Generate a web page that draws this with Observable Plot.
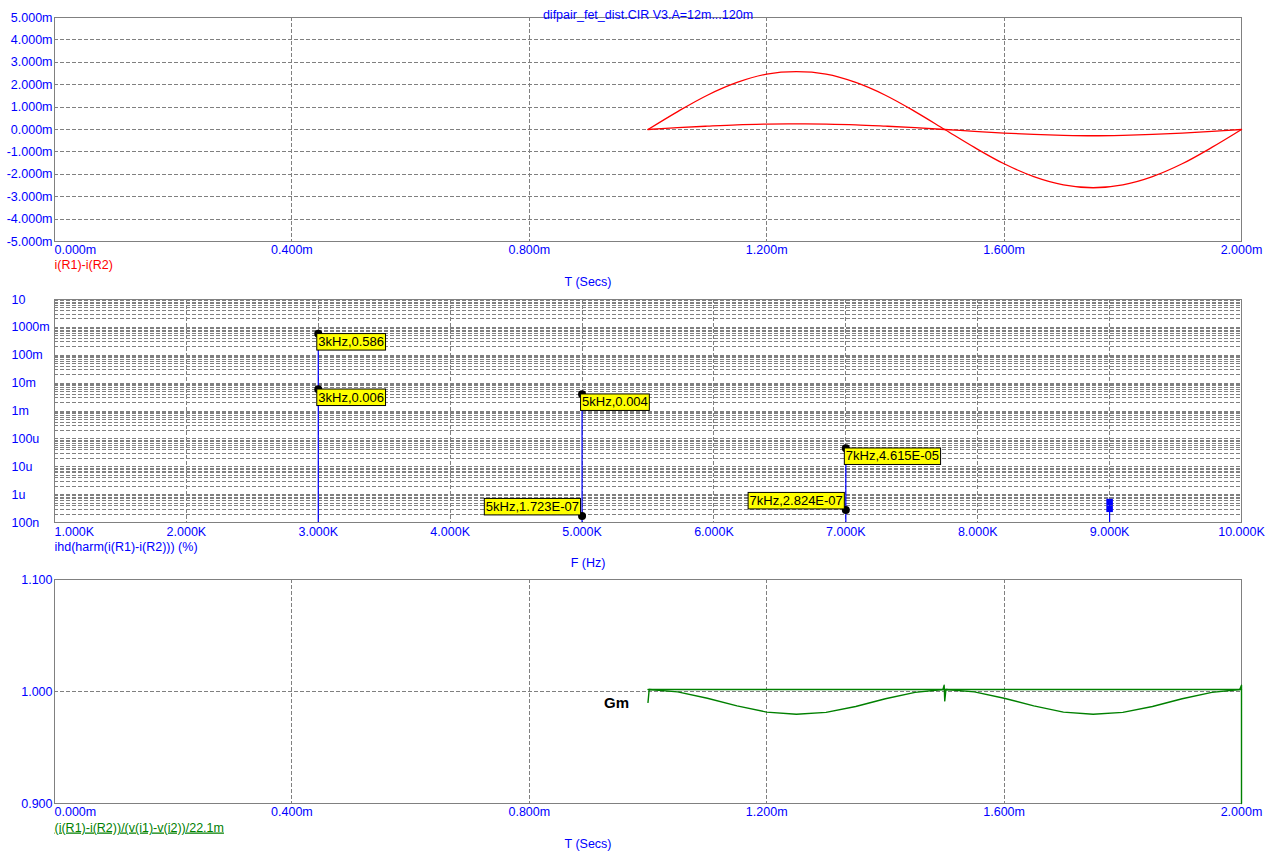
<!DOCTYPE html>
<html><head><meta charset="utf-8">
<script src="https://cdn.jsdelivr.net/npm/d3@7"></script>
<script src="https://cdn.jsdelivr.net/npm/@observablehq/plot@0.6"></script>
<style>
body{margin:0;background:#fff;}
#wrap{position:relative;width:1276px;height:860px;overflow:hidden;background:#fff;}
#wrap > svg{position:absolute;left:0;}
</style></head><body><div id="wrap"></div>
<script>
// ---------- data ----------
const title = "difpair_fet_dist.CIR V3.A=12m...120m";
const timeTicks = [0, 0.4, 0.8, 1.2, 1.6, 2.0];            // ms
const currentTicks = [-5, -4, -3, -2, -1, 0, 1, 2, 3, 4, 5]; // mA
const tCurve = [1.00, 1.05, 1.10, 1.15, 1.20, 1.25, 1.30, 1.35, 1.40, 1.45, 1.50,
                1.55, 1.60, 1.65, 1.70, 1.75, 1.80, 1.85, 1.90, 1.95, 2.00];
const iLarge = [0, 0.80, 1.53, 2.10, 2.47, 2.58, 2.47, 2.10, 1.53, 0.80, 0,
                -0.80, -1.53, -2.10, -2.47, -2.60, -2.47, -2.10, -1.53, -0.80, 0];
const iSmall = [0, 0.08, 0.15, 0.21, 0.24, 0.25, 0.24, 0.21, 0.15, 0.08, 0,
                -0.08, -0.16, -0.22, -0.26, -0.28, -0.26, -0.22, -0.16, -0.08, 0];

const freqTicks = [1000, 2000, 3000, 4000, 5000, 6000, 7000, 8000, 9000, 10000];
const freqTickLabels = ["1.000K","2.000K","3.000K","4.000K","5.000K","6.000K","7.000K","8.000K","9.000K","10.000K"];
const ihdTicks = [1e-7, 1e-6, 1e-5, 1e-4, 1e-3, 1e-2, 0.1, 1, 10];
const ihdTickLabels = ["100n","1u","10u","100u","1m","10m","100m","1000m","10"];
const harmFreq = [3000, 5000, 7000, 9000];
const ihdRunA12 = [0.006, 1.723e-7, 2.824e-7, 3.1e-7];
const ihdRunA120 = [0.586, 0.004, 4.615e-5, 5.4e-7];
const tagFreq = [3000, 3000, 5000, 7000];
const tagValue = [0.586, 0.006, 0.004, 4.615e-5];
const tagText = ["3kHz,0.586", "3kHz,0.006", "5kHz,0.004", "7kHz,4.615E-05"];
const tagLeftFreq = [5000, 7000];
const tagLeftValue = [1.723e-7, 2.824e-7];
const tagLeftText = ["5kHz,1.723E-07", "7kHz,2.824E-07"];

const gmTicks = [0.9, 1.0, 1.1];
const gmT = [1.000, 1.002, 1.05, 1.10, 1.15, 1.20, 1.25, 1.30, 1.35, 1.40, 1.45, 1.497, 1.499,
             1.500, 1.502, 1.55, 1.60, 1.65, 1.70, 1.75, 1.80, 1.85, 1.90, 1.95, 1.997, 2.000, 2.000];
const gmLarge = [0.9903, 1.0018, 0.9997, 0.9940, 0.9872, 0.9816, 0.9797, 0.9814, 0.9866, 0.9935, 0.9992, 1.0018, 1.0056,
                 0.9916, 1.0018, 0.9997, 0.9940, 0.9872, 0.9816, 0.9797, 0.9814, 0.9866, 0.9935, 0.9992, 1.0018, 1.0056, 0.9000];
const gmSmallT = [1.000, 1.25, 1.50, 1.75, 2.000];
const gmSmall = [1.0018, 1.0018, 1.0018, 1.0018, 1.0018];
const gmLabel = {t: 0.947, v: 0.98955, text: "Gm"};
const gmName = "(i(R1)-i(R2))/(v(i1)-v(i2))/22.1m";

// ---------- style ----------
const FONT = "Arial, 'Liberation Sans', sans-serif";
const BLUE = "#0000ff", RED = "#ff0000", GREEN = "#008000", GRAY = "#808080";
const gridOpt = {stroke: GRAY, strokeOpacity: 1, strokeDasharray: "4,2", shapeRendering: "crispEdges"};
const frameOpt = {stroke: GRAY, shapeRendering: "crispEdges"};
const baseStyle = {fontFamily: FONT, fontSize: "12.5px", color: BLUE, background: "transparent", overflow: "visible"};
const fmtT = d => d.toFixed(3) + "m";
const wrap = document.getElementById("wrap");

// ---------- panel 1 ----------
const p1 = Plot.plot({
  width: 1276, height: 290,
  marginLeft: 54, marginRight: 35, marginTop: 17, marginBottom: 49,
  style: baseStyle,
  x: {domain: [0, 2], axis: null},
  y: {domain: [-5, 5], axis: null},
  marks: [
    Plot.gridX(timeTicks.slice(1, -1), gridOpt),
    Plot.gridY(currentTicks.slice(1, -1), gridOpt),
    Plot.frame(frameOpt),
    Plot.axisY(currentTicks, {tickSize: 0, tickPadding: 2, tickFormat: fmtT, fill: BLUE, label: null}),
    Plot.axisX(timeTicks.slice(0, 1), {tickSize: 0, tickPadding: 4, textAnchor: "start", tickFormat: fmtT, fill: BLUE, label: null}),
    Plot.axisX(timeTicks.slice(1), {tickSize: 0, tickPadding: 4, tickFormat: fmtT, fill: BLUE, label: null}),
    Plot.line(tCurve, {x: d => d, y: (d, i) => iLarge[i], stroke: RED, strokeWidth: 1.3, curve: "catmull-rom"}),
    Plot.line(tCurve, {x: d => d, y: (d, i) => iSmall[i], stroke: RED, strokeWidth: 1.3, curve: "catmull-rom"}),
    Plot.text(["i(R1)-i(R2)"], {text: d => d, frameAnchor: "bottom-left", textAnchor: "start", dy: 27, fill: RED}),
    Plot.text(["T (Secs)"], {text: d => d, frameAnchor: "bottom", dx: -60, dy: 44, fill: BLUE}),
    Plot.text([title], {text: d => d, frameAnchor: "top", dy: -7, fill: BLUE})
  ]
});
p1.style.top = "0px";
wrap.appendChild(p1);

// ---------- panel 2 ----------
const minorLog = [];
for (let e = -7; e <= 0; e++) for (let k = 1; k <= 9; k++) minorLog.push(+(k * Math.pow(10, e)).toPrecision(3));
const harmRows = harmFreq.map((f, i) => ({f, a: ihdRunA12[i], b: ihdRunA120[i]}));
const p2 = Plot.plot({
  width: 1276, height: 285,
  marginLeft: 54, marginRight: 35, marginTop: 9, marginBottom: 53,
  style: baseStyle,
  x: {domain: [1000, 10000], axis: null},
  y: {type: "log", domain: [1e-7, 10], axis: null},
  marks: [
    Plot.gridX(freqTicks.slice(1, -1), gridOpt),
    Plot.gridY(minorLog.slice(1), gridOpt),
    Plot.frame(frameOpt),
    Plot.text(ihdTicks, {y: d => d, text: (d, i) => ihdTickLabels[i], frameAnchor: "left", dx: -43, textAnchor: "start", fill: BLUE}),
    Plot.axisX(freqTicks.slice(0, 1), {tickSize: 0, tickPadding: 5, textAnchor: "start", tickFormat: () => freqTickLabels[0], fill: BLUE, label: null}),
    Plot.text(freqTicks.slice(1), {x: d => d, text: (d, i) => freqTickLabels[i + 1], frameAnchor: "bottom", lineAnchor: "top", dy: 5, fill: BLUE}),
    Plot.ruleX(harmRows, {x: "f", y1: 1e-7, y2: d => Math.max(d.a, d.b), stroke: BLUE, strokeWidth: 1.2}),
    Plot.dot(harmRows.slice(3), {x: "f", y: "a", symbol: "square", r: 3.7, fill: BLUE}),
    Plot.dot(harmRows.slice(3), {x: "f", y: "b", symbol: "square", r: 3.7, fill: BLUE}),
    Plot.dot(tagFreq, {x: d => d, y: (d, i) => tagValue[i], r: 4, fill: "black"}),
    Plot.dot(tagLeftFreq, {x: d => d, y: (d, i) => tagLeftValue[i], r: 4, fill: "black"}),
    Plot.text(tagFreq, {x: d => d, y: (d, i) => tagValue[i], text: (d, i) => tagText[i], textAnchor: "start", lineAnchor: "top", dx: 0, dy: 3, fontSize: 13, fill: "black"}),
    Plot.text(tagLeftFreq, {x: d => d, y: (d, i) => tagLeftValue[i], text: (d, i) => tagLeftText[i], textAnchor: "end", lineAnchor: "bottom", dx: -3, dy: -5, fontSize: 13, fill: "black"}),
    Plot.text(["ihd(harm(i(R1)-i(R2))) (%)"], {text: d => d, frameAnchor: "bottom-left", textAnchor: "start", dy: 28, fill: BLUE}),
    Plot.text(["F (Hz)"], {text: d => d, frameAnchor: "bottom", dx: -60, dy: 44, fill: BLUE})
  ]
});
p2.style.top = "290px";
wrap.appendChild(p2);

// ---------- panel 3 ----------
const p3 = Plot.plot({
  width: 1276, height: 295,
  marginLeft: 54, marginRight: 35, marginTop: 14, marginBottom: 57,
  style: baseStyle,
  x: {domain: [0, 2], axis: null},
  y: {domain: [0.9, 1.1], axis: null},
  marks: [
    Plot.gridX(timeTicks.slice(1, -1), gridOpt),
    Plot.gridY([1.0], gridOpt),
    Plot.frame(frameOpt),
    Plot.axisY(gmTicks, {tickSize: 0, tickPadding: 2, tickFormat: d => d.toFixed(3), fill: BLUE, label: null}),
    Plot.axisX(timeTicks.slice(0, 1), {tickSize: 0, tickPadding: 4, textAnchor: "start", tickFormat: fmtT, fill: BLUE, label: null}),
    Plot.axisX(timeTicks.slice(1), {tickSize: 0, tickPadding: 4, tickFormat: fmtT, fill: BLUE, label: null}),
    Plot.line(gmSmallT, {x: d => d, y: (d, i) => gmSmall[i], stroke: GREEN, strokeWidth: 1.4}),
    Plot.line(gmT, {x: d => d, y: (d, i) => gmLarge[i], stroke: GREEN, strokeWidth: 1.4}),
    Plot.text([gmLabel], {x: "t", y: "v", text: "text", fill: "black", fontWeight: "bold", fontSize: 15}),
    Plot.text([gmName], {text: d => d, frameAnchor: "bottom-left", textAnchor: "start", dy: 28, fill: GREEN}),
    Plot.text(["T (Secs)"], {text: d => d, frameAnchor: "bottom", dx: -60, dy: 44, fill: BLUE})
  ]
});
p3.style.top = "565px";
wrap.appendChild(p3);

// ---------- post: yellow tag boxes, underline ----------
const NS = "http://www.w3.org/2000/svg";
const allTags = new Set(tagText.concat(tagLeftText));
p2.querySelectorAll("text").forEach(t => {
  if (!allTags.has(t.textContent)) return;
  const bb = t.getBBox();
  const r = document.createElementNS(NS, "rect");
  r.setAttribute("x", bb.x - 1.5);
  r.setAttribute("y", bb.y - 0.5);
  r.setAttribute("width", bb.width + 3);
  r.setAttribute("height", bb.height + 1.5);
  r.setAttribute("fill", "#ffff00");
  r.setAttribute("stroke", "#000");
  r.setAttribute("stroke-width", "1");
  if (t.getAttribute("transform")) r.setAttribute("transform", t.getAttribute("transform"));
  t.parentNode.insertBefore(r, t);
});
p3.querySelectorAll("text").forEach(t => {
  if (t.textContent === gmName) t.setAttribute("text-decoration", "underline");
});
</script></body></html>
